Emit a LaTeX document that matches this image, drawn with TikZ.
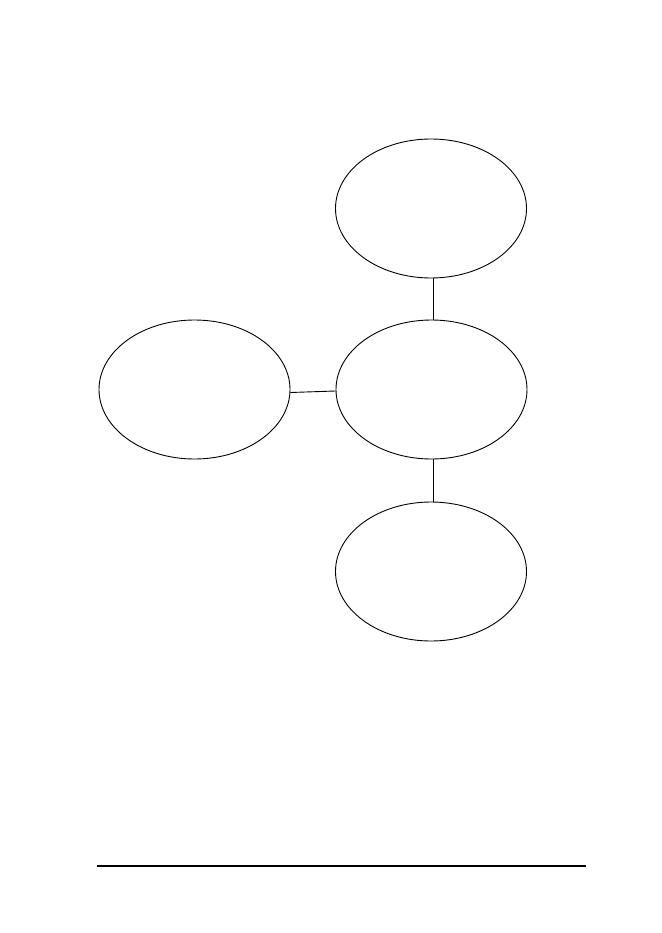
\documentclass[tikz,border=0pt]{standalone}
\usetikzlibrary{shapes.geometric}
\begin{document}
\begin{tikzpicture}[x=1pt,y=-1pt,
  bubble/.style={draw=black,ellipse,line width=0.9pt,minimum width=191pt,minimum height=139pt,inner sep=0pt},
  link/.style={draw=black,line width=0.9pt},
  rule/.style={draw=black,line width=1.2pt}]
\useasboundingbox (0,0) rectangle (661,933);
\node[bubble] (top) at (431,208.5) {};
\node[bubble] (mid) at (431.5,389.5) {};
\node[bubble] (left) at (194.5,389.5) {};
\node[bubble] (bot) at (431,571.5) {};
\draw[link] ([xshift=2pt]top.south) -- ([xshift=1.5pt]mid.north);
\draw[link] ([xshift=1.5pt]mid.south) -- ([xshift=2pt]bot.north);
\draw[link] ([yshift=-3pt]left.east) -- ([yshift=-1.5pt]mid.west);
\coordinate (r1) at (97,866);
\coordinate (r2) at (586,866);
\draw[rule] (r1) -- (r2);
\end{tikzpicture}
\end{document}
